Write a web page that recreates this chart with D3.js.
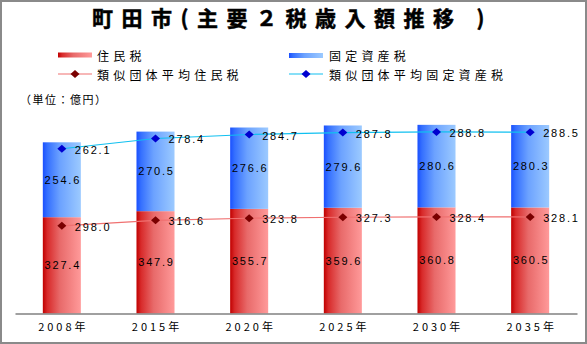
<!DOCTYPE html>
<html>
<head>
<meta charset="utf-8">
<script src="https://cdn.jsdelivr.net/npm/d3@7"></script>
<style>
  html, body { margin: 0; padding: 0; background: #fff; }
  svg { display: block; }
  text { font-family: "Liberation Sans", Arial, "Noto Sans CJK JP", sans-serif; }
  .jp { font-family: "Noto Sans CJK JP", "Noto Sans CJK SC", sans-serif; }
</style>
</head>
<body>
<script>
// Fiscal years on the x axis
const years = ["2008年", "2015年", "2020年", "2025年", "2030年", "2035年"];
// 住民税 (resident tax), 億円
const residentTax = [327.4, 347.9, 355.7, 359.6, 360.8, 360.5];
// 固定資産税 (fixed asset tax), 億円
const propertyTax = [254.6, 270.5, 276.6, 279.6, 280.6, 280.3];
// 類似団体平均 (peer-city averages), 億円
const peerResident = [298.0, 316.6, 323.8, 327.3, 328.4, 328.1];
const peerProperty = [262.1, 278.4, 284.7, 287.8, 288.8, 288.5];

const W = 587, H = 344;
const svg = d3.select("body").append("svg").attr("width", W).attr("height", H);

const defs = svg.append("defs");
function hGrad(id, stops) {
  const g = defs.append("linearGradient").attr("id", id)
    .attr("x1", "0%").attr("x2", "100%").attr("y1", "0%").attr("y2", "0%");
  stops.forEach(([o, c]) => g.append("stop").attr("offset", o).attr("stop-color", c));
}
hGrad("gRed", [["0%", "#c00000"], ["12%", "#d82a2a"], ["45%", "#e86a6a"], ["100%", "#ff9a9a"]]);
hGrad("gBlue", [["0%", "#1a50ff"], ["12%", "#3570ff"], ["45%", "#6ca2ff"], ["100%", "#9ccaff"]]);

// Outer frame
svg.append("rect").attr("x", 1).attr("y", 1).attr("width", W - 2).attr("height", H - 2)
  .attr("fill", "#fff").attr("stroke", "#8a8a8a").attr("stroke-width", 2);

// Title
const title = svg.append("text").attr("class", "jp")
  .attr("x", 92).attr("y", 26)
  .attr("font-size", 21).attr("font-weight", "bold")
  .attr("letter-spacing", 8.5).attr("fill", "#000")
  .attr("stroke", "#000").attr("stroke-width", 0.5);
title.append("tspan").text("町田市(主要２税歳入額推移");
title.append("tspan").attr("dx", 14).text(")");

// Scales
const x = d3.scaleBand().domain(years).range([15, 577]).paddingInner(0.594).paddingOuter(0.297);
const y = d3.scaleLinear().domain([0, 700]).range([313.5, 107.6]);

const rows = years.map((yr, i) => ({
  yr, res: residentTax[i], prop: propertyTax[i],
  pRes: peerResident[i], pProp: peerProperty[i]
}));

// Stacked bars
const bars = svg.append("g");
bars.selectAll("rect.res").data(rows).join("rect").attr("class", "res")
  .attr("x", d => x(d.yr)).attr("width", x.bandwidth())
  .attr("y", d => y(d.res)).attr("height", d => y(0) - y(d.res))
  .attr("fill", "url(#gRed)");
bars.selectAll("rect.prop").data(rows).join("rect").attr("class", "prop")
  .attr("x", d => x(d.yr)).attr("width", x.bandwidth())
  .attr("y", d => y(d.res + d.prop)).attr("height", d => y(d.res) - y(d.res + d.prop))
  .attr("fill", "url(#gBlue)");

// Segment value labels
const lab = { "font-size": 11, "letter-spacing": 1.8, "fill": "#000" };
function applyAttrs(sel, a) { Object.entries(a).forEach(([k, v]) => sel.attr(k, v)); return sel; }
applyAttrs(svg.append("g").selectAll("text").data(rows).join("text")
  .attr("x", d => x(d.yr) + x.bandwidth() / 2 + 1)
  .attr("y", d => y(d.res / 2))
  .attr("text-anchor", "middle").attr("dominant-baseline", "central")
  .text(d => d.res.toFixed(1)), lab);
applyAttrs(svg.append("g").selectAll("text").data(rows).join("text")
  .attr("x", d => x(d.yr) + x.bandwidth() / 2 + 1)
  .attr("y", d => y(d.res + d.prop / 2))
  .attr("text-anchor", "middle").attr("dominant-baseline", "central")
  .text(d => d.prop.toFixed(1)), lab);

// Axis baseline and category labels
const xAxis = svg.append("g").attr("transform", `translate(0,${y(0)})`)
  .call(d3.axisBottom(x).tickSize(0).tickPadding(10));
xAxis.select(".domain").attr("stroke", "#808080").attr("stroke-width", 1.5);
xAxis.selectAll("text").attr("class", "jp").attr("font-size", 11)
  .attr("letter-spacing", 3).attr("fill", "#000").attr("dx", 1.5);

// Peer-average lines (property average stacked on resident average)
const cx = d => x(d.yr) + x.bandwidth() / 2;
const diamond = (px, py) => `M${px - 4.5},${py} L${px},${py - 4} L${px + 4.5},${py} L${px},${py + 4} Z`;

const series = [
  { val: d => d.pRes, label: d => d.pRes, line: "#f07070", mark: "#7a0000" },
  { val: d => d.pRes + d.pProp, label: d => d.pProp, line: "#10c0f0", mark: "#0000d0" }
];
series.forEach(s => {
  svg.append("path").datum(rows)
    .attr("fill", "none").attr("stroke", s.line).attr("stroke-width", 1.2)
    .attr("d", d3.line().x(cx).y(d => y(s.val(d))));
  svg.append("g").selectAll("path").data(rows).join("path")
    .attr("d", d => diamond(cx(d), y(s.val(d))))
    .attr("fill", s.mark);
  applyAttrs(svg.append("g").selectAll("text").data(rows).join("text")
    .attr("x", d => cx(d) + 13)
    .attr("y", d => y(s.val(d)) + 1)
    .attr("dominant-baseline", "central")
    .text(d => s.label(d).toFixed(1)), lab);
});

// Legend
const leg = svg.append("g");
const legText = (tx, ty, t) => leg.append("text").attr("class", "jp")
  .attr("x", tx).attr("y", ty).attr("dominant-baseline", "central")
  .attr("font-size", 12).attr("letter-spacing", 4.2).attr("fill", "#000").text(t);

leg.append("rect").attr("x", 58).attr("y", 52.5).attr("width", 34).attr("height", 5).attr("fill", "url(#gRed)");
legText(97, 55.5, "住民税");
leg.append("rect").attr("x", 289).attr("y", 53).attr("width", 34).attr("height", 5).attr("fill", "url(#gBlue)");
legText(329, 55.5, "固定資産税");

leg.append("line").attr("x1", 58).attr("x2", 92).attr("y1", 74).attr("y2", 74).attr("stroke", series[0].line).attr("stroke-width", 1.2);
leg.append("path").attr("d", diamond(75, 74)).attr("fill", series[0].mark);
legText(97, 74, "類似団体平均住民税");
leg.append("line").attr("x1", 289).attr("x2", 323).attr("y1", 74).attr("y2", 74).attr("stroke", series[1].line).attr("stroke-width", 1.2);
leg.append("path").attr("d", diamond(306, 74)).attr("fill", series[1].mark);
legText(329, 74, "類似団体平均固定資産税");

// Unit note
svg.append("text").attr("class", "jp").attr("x", 20).attr("y", 99)
  .attr("dominant-baseline", "central").attr("font-size", 11).attr("letter-spacing", 1.5)
  .attr("fill", "#000").text("（単位：億円）");
</script>
</body>
</html>
